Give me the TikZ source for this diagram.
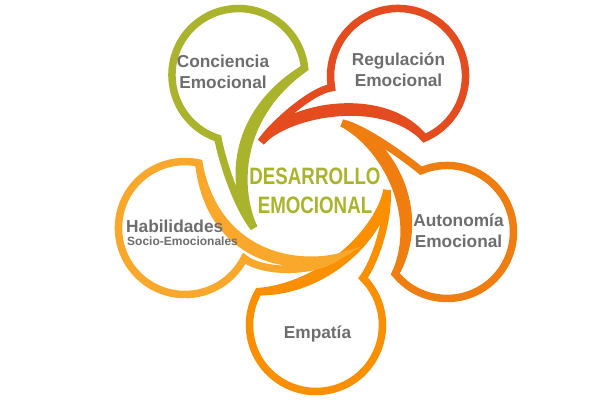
\documentclass[tikz,border=0pt]{standalone}
\usepackage{fontspec}
\setmainfont{Liberation Sans}
\newfontfamily\titlefont[FakeStretch=0.79]{Liberation Sans}
\definecolor{concolor}{HTML}{A9B32C}
\definecolor{regcolor}{HTML}{E44B1E}
\definecolor{autcolor}{HTML}{F07D10}
\definecolor{empcolor}{HTML}{FA8F02}
\definecolor{habcolor}{HTML}{F9A82B}
\definecolor{labelgray}{HTML}{6D6D6D}
\begin{document}
\begin{tikzpicture}[x=1pt,y=1pt]
    \tikzset{
        petal/.style={line width=7.5pt, line join=miter},
        label text/.style={text=labelgray, font=\bfseries\fontsize{17.3}{21}\selectfont, align=center, inner sep=0},
        title text/.style={text=concolor, font=\titlefont\bfseries\fontsize{23.7}{28.5}\selectfont, align=center, inner sep=0}
    }
    \useasboundingbox (0,0) rectangle (600,400);
    % Conciencia Emocional
    \draw[petal, draw=concolor] (304.6,331.9) arc[start angle=6, end angle=252, radius=66.5]
        .. controls (222,240) and (236,195) .. (254,172)
        .. controls (230,210) and (228,285) .. cycle;
    \draw[petal, draw=concolor] (254,172) .. controls (237,208) and (234,281) .. (304.6,331.9);
    % Regulacion Emocional
    \draw[petal, draw=regcolor] (424.4,261.9) arc[start angle=-67, end angle=190, radius=67.5]
        .. controls (312,310) and (272,275) .. (261,258)
        .. controls (285,295) and (385,312) .. cycle;
    \draw[petal, draw=regcolor] (261,258) .. controls (288,288) and (383,305) .. (424.4,261.9);
    % Autonomia Emocional
    \draw[petal, draw=autcolor] (395.3,126.2) arc[start angle=219, end angle=473, radius=66.5]
        .. controls (408,240) and (365,272) .. (342,277)
        .. controls (390,262) and (430,188) .. cycle;
    \draw[petal, draw=autcolor] (342,277) .. controls (384,255) and (422,186) .. (395.3,126.2);
    % Empatia
    \draw[petal, draw=empcolor] (258.4,108.25) arc[start angle=150, end angle=405, radius=66.5]
        .. controls (375,138) and (389,180) .. (387,210)
        .. controls (386,170) and (330,108) .. cycle;
    \draw[petal, draw=empcolor] (387,210) .. controls (380,172) and (327,115) .. (258.4,108.25);
    % Habilidades Socio-Emocionales
    \draw[petal, draw=habcolor] (198.8,237) arc[start angle=78, end angle=333, radius=66.5]
        .. controls (260,128) and (310,126) .. (335,142)
        .. controls (280,125) and (208,150) .. cycle;
    \draw[petal, draw=habcolor] (335,142) .. controls (282,132) and (214,154) .. (198.8,237);

    \node[title text] (centro) at (315,209.2) {DESARROLLO\\EMOCIONAL};
    \node[label text] (concTxt) at (223,328.5) {Conciencia\\Emocional};
    \node[label text] (regTxt) at (398.5,330.5) {Regulación\\Emocional};
    \node[label text] (autTxt) at (458.5,169.5) {Autonomía\\Emocional};
    \node[label text, anchor=base] (empTxt) at (317.5,62) {Empatía};
    \node[label text, anchor=base west] (habTxt) at (126,168) {Habilidades};
    \node[anchor=base west, text=labelgray, font=\bfseries\fontsize{12}{13}\selectfont, inner sep=0] (habSub) at (127,155) {Socio-Emocionales};
\end{tikzpicture}
\end{document}
